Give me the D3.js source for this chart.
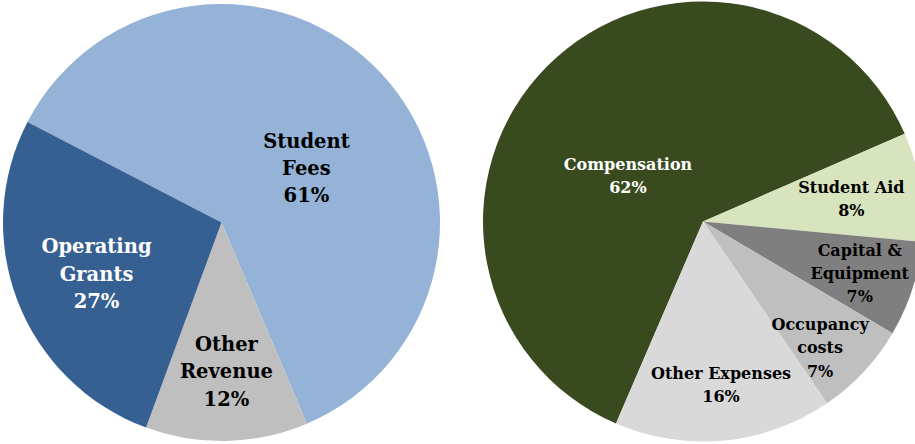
<!DOCTYPE html>
<html>
<head>
<meta charset="utf-8">
<script src="https://cdn.jsdelivr.net/npm/d3@7"></script>
<style>
  html, body { margin: 0; padding: 0; background: #fff; }
  svg { display: block; }
  text { font-family: "DejaVu Serif", serif; font-weight: bold; }
</style>
</head>
<body>
<svg id="chart" width="915" height="444"></svg>
<script>
// revenue pie
const revenueCategories = ['Student Fees', 'Other Revenue', 'Operating Grants'];
const revenueShares = [61, 12, 27];
const revenueLabels = [['Student', 'Fees'], ['Other', 'Revenue'], ['Operating', 'Grants']];

// expense pie
const expenseCategories = ['Compensation', 'Student Aid', 'Capital & Equipment', 'Occupancy costs', 'Other Expenses'];
const expenseShares = [62, 8, 7, 7, 16];
const expenseLabels = [['Compensation'], ['Student Aid'], ['Capital &', 'Equipment'], ['Occupancy', 'costs'], ['Other Expenses']];

const deg = Math.PI / 180;
const svg = d3.select('#chart');

// layout of each pie, kept apart from the values
const pies = [
  {
    categories: revenueCategories,
    values: revenueShares,
    labels: revenueLabels,
    cx: 221.5, cy: 222.5, radius: 218.5,
    start: -62.6,
    colors: ['#95b3d7', '#bfbfbf', '#376092'],
    textColors: ['#000', '#000', '#fff'],
    labelR: [101, 149, 135],
    labelNudge: [10, -0.5, -1],
    fontSize: 19.5,
    lineHeight: 27.3,
  },
  {
    categories: expenseCategories,
    values: expenseShares,
    labels: expenseLabels,
    cx: 703, cy: 221.5, radius: 220,
    start: -156.7,
    colors: ['#3a4a1f', '#d7e4bd', '#7f7f7f', '#bfbfbf', '#d9d9d9'],
    textColors: ['#fff', '#000', '#000', '#000', '#000'],
    labelR: [88, 150, 165, 172, 164.5],
    labelNudge: [-13.4, 0.5, 0.3, 4, -0.8],
    fontSize: 16,
    lineHeight: 23.3,
  },
];

function drawPie(cfg) {
  const pie = d3.pie()
    .sort(null)
    .value(d => d)
    .startAngle(cfg.start * deg)
    .endAngle(cfg.start * deg + 2 * Math.PI);

  const arc = d3.arc()
    .innerRadius(0)
    .outerRadius(cfg.radius);

  const color = d3.scaleOrdinal()
    .domain(cfg.categories)
    .range(cfg.colors);

  const g = svg.append('g')
    .attr('transform', `translate(${cfg.cx},${cfg.cy})`);

  const arcs = pie(cfg.values);

  g.selectAll('path')
    .data(arcs)
    .join('path')
    .attr('d', arc)
    .attr('fill', (d, i) => color(cfg.categories[i]));

  const labels = g.selectAll('text')
    .data(arcs)
    .join('text')
    .attr('text-anchor', 'middle')
    .attr('font-size', cfg.fontSize)
    .attr('fill', (d, i) => cfg.textColors[i])
    .attr('transform', (d, i) => {
      const a = (d.startAngle + d.endAngle) / 2 + cfg.labelNudge[i] * deg;
      const r = cfg.labelR[i];
      return `translate(${r * Math.sin(a)},${-r * Math.cos(a)})`;
    });

  labels.each(function (d, i) {
    const lines = cfg.labels[i].concat([`${cfg.values[i]}%`]);
    const first = -((lines.length - 1) / 2) * cfg.lineHeight + cfg.fontSize * 0.36;
    const t = d3.select(this);
    lines.forEach((line, k) => {
      t.append('tspan')
        .attr('x', 0)
        .attr('y', first + k * cfg.lineHeight)
        .text(line);
    });
  });
}

pies.forEach(drawPie);
</script>
</body>
</html>
